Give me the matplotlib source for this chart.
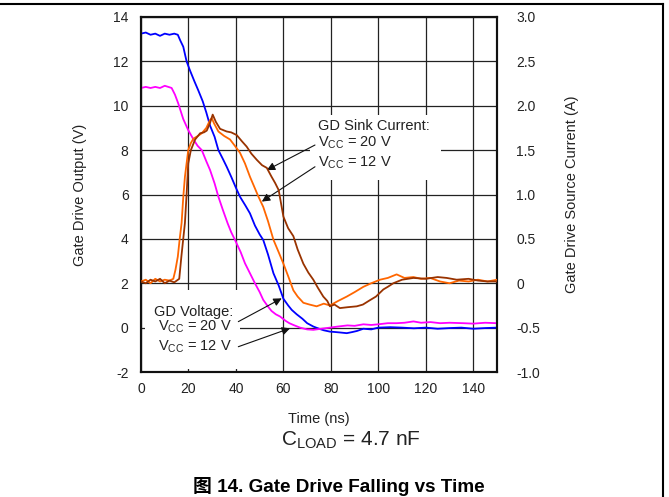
import matplotlib
matplotlib.use('Agg')
import matplotlib.pyplot as plt
from matplotlib.patches import Rectangle
from matplotlib.lines import Line2D

plt.rcParams['font.family'] = ['Liberation Sans', 'Noto Sans CJK SC', 'DejaVu Sans']
plt.rcParams['mathtext.fontset'] = 'custom'
plt.rcParams['mathtext.rm'] = 'Liberation Sans'
plt.rcParams['axes.unicode_minus'] = False

# gate drive output voltage (V), left axis
t_v20 = [0, 2, 4, 6, 8, 10, 12, 14, 15.5, 16.5, 17.8, 19.2, 20.6, 22.5, 24.1, 26, 27.5, 29.1, 31, 32.6,
         34.5, 36.1, 38, 40, 41.7, 44, 45.9, 48, 50, 51.5, 53.5, 55.8, 58, 60, 62, 63.5, 65.6, 68, 70,
         72.6, 75, 77, 79.6, 82, 84, 86.7, 89, 91, 93.7, 97, 100, 105, 110, 115, 120, 125, 130, 135,
         140, 145, 150]
v20 = [13.25, 13.3, 13.2, 13.25, 13.15, 13.25, 13.2, 13.25, 13.2, 12.95, 12.66, 12.0, 11.6, 11.1, 10.7,
       10.2, 9.7, 9.1, 8.6, 8.0, 7.6, 7.25, 6.8, 6.3, 5.9, 5.5, 5.15, 4.6, 4.2, 3.95, 3.3, 2.45, 1.9,
       1.3, 1.0, 0.8, 0.6, 0.4, 0.2, 0.05, -0.05, -0.12, -0.18, -0.2, -0.22, -0.25, -0.2, -0.15, -0.05,
       -0.08, 0.0, 0.02, 0.0, -0.03, 0.0, -0.05, -0.02, 0.0, -0.05, -0.02, 0.0]

t_v12 = [0, 2, 4, 6, 8, 10, 11.5, 12.9, 14.3, 15.7, 17.8, 19.9, 22, 23.8, 25.6, 27.5, 29.1, 31, 32.6,
         34.5, 36.5, 38, 39.6, 42, 43.8, 45.9, 48, 50, 51.5, 53.5, 55, 56.8, 58.6, 61, 62.5, 64.2, 67,
         70, 72.6, 76, 79.6, 83, 87, 90, 93.7, 97, 100, 104, 107.7, 111, 114.8, 118, 122, 126, 130,
         135.8, 140, 145, 150]
v12 = [10.8, 10.85, 10.8, 10.85, 10.8, 10.9, 10.85, 10.8, 10.5, 10.1, 9.4, 8.9, 8.5, 8.2, 8.0, 7.5,
       7.1, 6.5, 5.9, 5.3, 4.7, 4.3, 3.95, 3.4, 2.9, 2.45, 2.0, 1.6, 1.25, 0.95, 0.75, 0.6, 0.5, 0.3,
       0.2, 0.12, 0.0, -0.08, -0.1, -0.05, 0.0, 0.05, 0.1, 0.08, 0.15, 0.12, 0.15, 0.2, 0.2, 0.22,
       0.28, 0.22, 0.25, 0.2, 0.22, 0.2, 0.18, 0.22, 0.2]

# sink current (A), right axis
t_i12 = [0, 2, 4, 6, 8, 10, 12, 13.6, 14.5, 15.5, 16.3, 17.1, 17.8, 18.5, 19.9, 21, 22.1, 24, 25.6,
         27.5, 29.1, 29.8, 30.8, 32.6, 35, 37.5, 39.5, 41.7, 43.8, 45.9, 47.5, 49.4, 51.5, 53.5, 55.8,
         58, 60, 62, 64.2, 66, 68.4, 71, 74, 77, 79.6, 83, 86.7, 90, 93.7, 97, 100.7, 104, 107.7, 111,
         114.8, 118, 121.8, 126, 130, 134, 138, 142, 146, 150]
i12 = [0.02, 0.04, 0.0, 0.05, 0.02, 0.04, 0.03, 0.05, 0.15, 0.3, 0.5, 0.68, 0.97, 1.2, 1.5, 1.58,
       1.63, 1.66, 1.69, 1.75, 1.84, 1.86, 1.8, 1.71, 1.66, 1.62, 1.55, 1.47, 1.35, 1.2, 1.1, 0.98,
       0.86, 0.7, 0.49, 0.35, 0.22, 0.08, -0.08, -0.15, -0.22, -0.24, -0.26, -0.23, -0.25, -0.2,
       -0.15, -0.1, -0.04, 0.0, 0.04, 0.06, 0.1, 0.06, 0.07, 0.05, 0.06, 0.02, 0.0, 0.03, 0.02, 0.04,
       0.02, 0.04]

t_i20 = [0, 2, 4, 6, 8, 10, 12, 14, 16.1, 17, 18.5, 19.2, 19.9, 21, 22.8, 24.9, 26.5, 27.7, 29, 30.2,
         31.5, 33.3, 36.1, 38, 40.3, 42.5, 44.5, 46.5, 48.8, 51, 53, 55, 56.5, 58, 60, 62, 64.2, 66,
         68.4, 70.5, 72.6, 74.5, 76.8, 78.5, 79.6, 81.5, 83.8, 87, 90.9, 93.5, 96.5, 99, 102.1, 104,
         106.3, 110, 114.8, 120, 125, 128.8, 133, 138, 142, 146, 150]
i20 = [0.02, 0.0, 0.04, 0.02, 0.05, 0.0, 0.03, 0.01, 0.05, 0.3, 0.68, 1.0, 1.35, 1.5, 1.62, 1.69, 1.7,
       1.72, 1.8, 1.9, 1.82, 1.74, 1.71, 1.7, 1.67, 1.6, 1.54, 1.46, 1.39, 1.33, 1.3, 1.2, 1.13, 1.05,
       0.75, 0.62, 0.53, 0.38, 0.22, 0.12, 0.04, -0.05, -0.15, -0.2, -0.26, -0.24, -0.28, -0.27,
       -0.26, -0.24, -0.19, -0.15, -0.07, -0.04, 0.0, 0.04, 0.06, 0.05, 0.07, 0.06, 0.04, 0.05, 0.03,
       0.02, 0.02]

x_ticks = [0, 20, 40, 60, 80, 100, 120, 140]
y_ticks = [-2, 0, 2, 4, 6, 8, 10, 12, 14]
y2_ticks = [-1.0, -0.5, 0, 0.5, 1.0, 1.5, 2.0, 2.5, 3.0]
y2_labels = ['-1.0', '-0.5', '0', '0.5', '1.0', '1.5', '2.0', '2.5', '3.0']

fig = plt.figure(figsize=(6.69, 4.97), dpi=100)
ax = fig.add_axes([0.2108, 0.2515, 0.5321, 0.7143])
ax2 = ax.twinx()

ax.set_xlim(0, 150)
ax.set_ylim(-2, 14)
ax2.set_ylim(-1, 3)
ax.set_xticks(x_ticks)
ax.set_yticks(y_ticks)
ax2.set_yticks(y2_ticks)
ax2.set_yticklabels(y2_labels)
ax.set_axisbelow(True)
ax.grid(True, color='#222222', lw=0.9)

tc = '#222222'
ax.tick_params(length=0, labelsize=10, colors=tc, pad=9)
ax.tick_params(axis='x', pad=7)
ax2.tick_params(length=0, labelsize=10, colors=tc, pad=14)
for a in (ax, ax2):
    for s in a.spines.values():
        s.set_linewidth(1.5)
        s.set_color('#111111')

ax.plot(t_v20, v20, color='#0000ff', lw=1.3, zorder=3)
ax.plot(t_v12, v12, color='#ff00ff', lw=1.3, zorder=3)
ax2.plot(t_i12, i12, color='#ff6600', lw=1.3, zorder=3)
ax2.plot(t_i20, i20, color='#993300', lw=1.3, zorder=3)

ax.set_xlabel('Time (ns)', fontsize=10.5, color=tc)
ax.set_ylabel('Gate Drive Output (V)', fontsize=10.5, color=tc)
ax2.set_ylabel('Gate Drive Source Current (A)', fontsize=10.5, color=tc)
ax.xaxis.set_label_coords(0.5, -0.113)
ax.yaxis.set_label_coords(-0.152, 0.5)
ax2.yaxis.set_label_coords(1.191, 0.5)

# white boxes behind the notes
ax.add_patch(Rectangle((71, 6.65), 55.5, 2.95, facecolor='white', edgecolor='none', zorder=1.5))
ax.add_patch(Rectangle((1.7, -1.85), 40, 3.55, facecolor='white', edgecolor='none', zorder=1.5))

fs = 10.5
ax.text(74.6, 9.09, 'GD Sink Current:', fontsize=fs, color=tc, va='center', zorder=4)
ax.text(74.6, 8.32, r'$\mathregular{V_{CC}}$ = 20 V', fontsize=fs, color=tc, va='center', zorder=4)
ax.text(74.6, 7.42, r'$\mathregular{V_{CC}}$ = 12 V', fontsize=fs, color=tc, va='center', zorder=4)
ax.text(38.8, 0.72, 'GD Voltage:', fontsize=fs, color=tc, va='center', ha='right', zorder=4)
ax.text(38.3, 0.04, r'$\mathregular{V_{CC}}$ = 20 V', fontsize=fs, color=tc, va='center', ha='right', zorder=4)
ax.text(38.3, -0.86, r'$\mathregular{V_{CC}}$ = 12 V', fontsize=fs, color=tc, va='center', ha='right', zorder=4)

arr = dict(arrowstyle='-|>', color='#111111', lw=0.8, mutation_scale=12, shrinkA=0, shrinkB=0)
ax.annotate('', xy=(53, 7.1), xytext=(73.3, 8.23), arrowprops=arr, zorder=4)
ax.annotate('', xy=(50.9, 5.68), xytext=(73.3, 7.25), arrowprops=arr, zorder=4)
ax.annotate('', xy=(59.3, 1.32), xytext=(41, 0.27), arrowprops=arr, zorder=4)
ax.annotate('', xy=(62.8, -0.03), xytext=(41, -0.86), arrowprops=arr, zorder=4)

fig.text(0.525, 0.113, r'$\mathregular{C_{LOAD}}$ = 4.7 nF', fontsize=15, color=tc, ha='center', va='center')
fig.text(0.507, 0.021, '图 14. Gate Drive Falling vs Time', fontsize=13.6, fontweight='bold',
         ha='center', va='center', color='black')

# page frame (top and right)
fig.add_artist(Line2D([0, 0.991], [0.992, 0.992], color='black', lw=1.5, transform=fig.transFigure))
fig.add_artist(Line2D([0.991, 0.991], [0, 0.992], color='black', lw=1.5, transform=fig.transFigure))

fig.savefig('out.png', dpi=100)
